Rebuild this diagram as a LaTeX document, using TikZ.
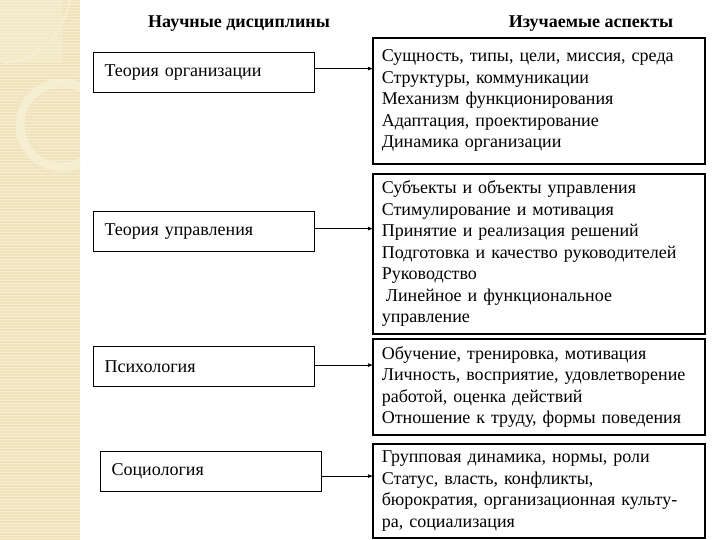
\documentclass[tikz,border=0pt]{standalone}
\usepackage{fontspec}
\setmainfont{Liberation Serif}
\usetikzlibrary{arrows,positioning}

\definecolor{stripbeige}{RGB}{240,226,186}
\definecolor{ringbeige}{RGB}{246,238,208}

\begin{document}
\begin{tikzpicture}[x=1pt,y=-1pt,->,>=stealth',semithick,font=\fontsize{18}{21.5}\selectfont]
  \tikzstyle{discipline}=[draw=black,line width=1.2pt,anchor=north west,minimum width=221pt,minimum height=40pt,text width=199pt,inner xsep=11pt,align=left]
  \tikzstyle{aspects}=[draw=black,line width=1.6pt,anchor=north west,text width=314pt,inner xsep=9pt,align=left]
  \tikzstyle{heading}=[font=\fontsize{18}{20}\selectfont\bfseries]

  \useasboundingbox (0,0) rectangle (720,540);
  \fill[white] (0,0) rectangle (720,540);

  % decorative strip
  \fill[stripbeige] (0,0) rectangle (80,540);
  \foreach \y in {1,4,...,540}
    \draw[-,white,opacity=0.35,line width=0.7pt] (0,\y) -- (80,\y);
  \begin{scope}
    \clip (0,0) rectangle (80,540);
    \fill[ringbeige,opacity=0.6] (0,0) rectangle (63,63);
    \draw[-,ringbeige,line width=9pt] (62,125) circle (42pt);
    \draw[-,ringbeige,line width=2pt] (70,0) .. controls (60,40) and (40,58) .. (5,63);
  \end{scope}

  \node[heading] (hd) at (239,24) {Научные дисциплины};
  \node[heading] (ha) at (591,24) {Изучаемые аспекты};

  \node[discipline] (org) at (93,52) {Теория организации};
  \node[discipline] (upr) at (93,211) {Теория управления};
  \node[discipline] (psy) at (93,346) {Психология};
  \node[discipline] (soc) at (100,451) {Социология};

  \node[aspects,minimum height=126pt] (aorg) at (372,37) {Сущность, типы, цели, миссия, среда\\Структуры, коммуникации\\Механизм функционирования\\Адаптация, проектирование\\Динамика организации};
  \node[aspects,minimum height=160pt] (aupr) at (372,173) {Субъекты и объекты управления\\Стимулирование и мотивация\\Принятие и реализация решений\\Подготовка и качество руководителей\\Руководство\\\hspace*{4pt}Линейное и функциональное\\управление};
  \node[aspects,minimum height=96pt] (apsy) at (372,338) {Обучение, тренировка, мотивация\\Личность, восприятие, удовлетворение\\работой, оценка действий\\Отношение к труду, формы поведения};
  \node[aspects,minimum height=94pt] (asoc) at (372,443) {Групповая динамика, нормы, роли\\Статус, власть, конфликты,\\бюрократия, организационная культу-\\ра, социализация};

  \draw ([yshift=4pt]org.east) -- ([yshift=4pt]org.east -| aorg.west);
  \draw ([yshift=3pt]upr.east) -- ([yshift=3pt]upr.east -| aupr.west);
  \draw ([yshift=1.5pt]psy.east) -- ([yshift=1.5pt]psy.east -| apsy.west);
  \draw ([yshift=-4.5pt]soc.east) -- ([yshift=-4.5pt]soc.east -| asoc.west);
\end{tikzpicture}
\end{document}
